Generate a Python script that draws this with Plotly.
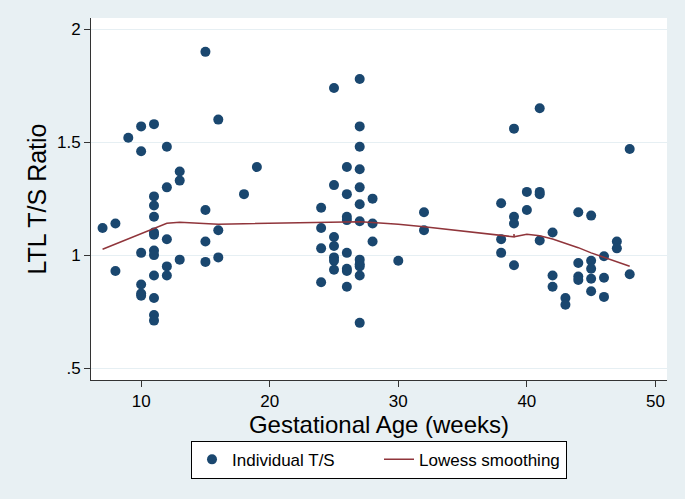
import plotly.graph_objects as go

# Scatter data: gestational age (weeks) and LTL T/S ratio
age_weeks = (
    [7] + [8]*2 + [9] + [10]*6 + [11]*12 + [12]*5 + [13]*3 + [15]*4 + [16]*3
    + [18] + [19] + [24]*4 + [25]*7 + [26]*8 + [27]*12 + [28]*3 + [30] + [32]*2
    + [38]*3 + [39]*4 + [40]*2 + [41]*4 + [42]*3 + [43]*2 + [44]*4 + [45]*5
    + [46]*3 + [47]*2 + [48]*2
)
ts_ratio = [
    1.12,
    1.14, 0.93,
    1.52,
    1.57, 1.46, 1.01, 0.87, 0.83, 0.82,
    1.58, 1.26, 1.22, 1.17, 1.10, 1.09, 1.02, 1.00, 0.91, 0.81, 0.735, 0.71,
    1.48, 1.30, 1.07, 0.95, 0.91,
    1.37, 1.33, 0.98,
    1.90, 1.20, 1.06, 0.97,
    1.60, 1.11, 0.99,
    1.27,
    1.39,
    1.21, 1.12, 1.03, 0.88,
    1.74, 1.31, 1.08, 1.04, 0.99, 0.975, 0.935,
    1.39, 1.27, 1.17, 1.155, 1.01, 0.94, 0.93, 0.86,
    1.78, 1.57, 1.48, 1.38, 1.30, 1.225, 1.15, 0.98, 0.96, 0.95, 0.91, 0.70,
    1.25, 1.14, 1.06,
    0.975,
    1.19, 1.11,
    1.23, 1.07, 1.01,
    1.56, 1.17, 1.14, 0.955,
    1.28, 1.20,
    1.65, 1.28, 1.27, 1.065,
    1.10, 0.91, 0.86,
    0.81, 0.78,
    1.19, 0.965, 0.905, 0.89,
    1.175, 0.975, 0.94, 0.895, 0.84,
    0.995, 0.90, 0.815,
    1.06, 1.03,
    1.47, 0.915,
]

# Lowess smoothed curve
lowess_x = [7, 8, 9, 10, 11, 12, 13, 15, 16, 18, 19, 24, 25, 26, 27, 28, 30, 32,
            38, 39, 39, 39, 40, 41, 42, 43, 44, 45, 46, 47, 48]
lowess_y = [1.026, 1.049, 1.072, 1.096, 1.119, 1.141, 1.145, 1.138, 1.137, 1.139,
            1.140, 1.145, 1.146, 1.147, 1.148, 1.144, 1.137, 1.126,
            1.085, 1.081, 1.094, 1.081, 1.092, 1.086, 1.071, 1.052, 1.033, 1.010,
            0.990, 0.968, 0.951]

x_ticks = [10, 20, 30, 40, 50]
y_ticks = [0.5, 1, 1.5, 2]
y_ticktext = [".5", "1", "1.5", "2"]

BG = "#E8F0F3"
NAVY = "#1A476F"
MAROON = "#90353B"
FONT = "Liberation Sans, Arial, sans-serif"

fig = go.Figure()
fig.add_trace(go.Scatter(
    x=age_weeks, y=ts_ratio, mode="markers", name="Individual T/S",
    marker=dict(color=NAVY, size=10, line=dict(width=0)),
))
fig.add_trace(go.Scatter(
    x=lowess_x, y=lowess_y, mode="lines", name="Lowess smoothing",
    line=dict(color=MAROON, width=1.5),
))

fig.update_layout(
    width=685, height=499,
    paper_bgcolor=BG, plot_bgcolor="white",
    margin=dict(l=91, r=18, t=18, b=119, autoexpand=False),
    font=dict(family=FONT, size=17, color="black"),
    showlegend=True,
    legend=dict(
        orientation="h", x=0.5, xanchor="center", y=-0.168, yanchor="top",
        bgcolor="white", bordercolor="black", borderwidth=1,
        font=dict(size=17), itemwidth=30, entrywidth=142,
    ),
    xaxis=dict(
        range=[6.1, 50.9], tickvals=x_ticks, ticks="outside", ticklen=6,
        tickcolor="#333", showline=True, linecolor="#333", linewidth=1,
        showgrid=False, zeroline=False, automargin=False,
        title=dict(text="Gestational Age (weeks)", font=dict(size=24), standoff=2),
        tickfont=dict(size=17),
    ),
    yaxis=dict(
        range=[0.447, 2.05], tickvals=y_ticks, ticktext=y_ticktext,
        ticks="outside", ticklen=6, tickcolor="#333",
        showline=True, linecolor="#333", linewidth=1,
        showgrid=True, gridcolor="#E6EFF3", gridwidth=1, zeroline=False,
        automargin=False,
        title=dict(text="LTL T/S Ratio", font=dict(size=25), standoff=3),
        tickfont=dict(size=17),
    ),
)

fig.write_html("out.html", config={"displayModeBar": False},
               post_script="document.body.style.margin='0px';")
